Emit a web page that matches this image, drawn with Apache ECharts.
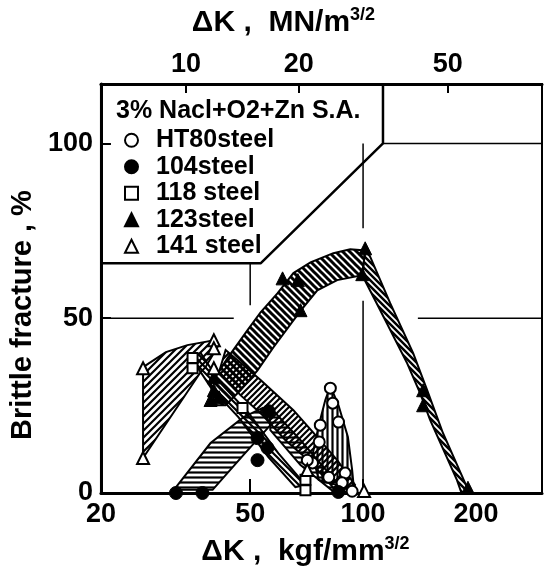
<!DOCTYPE html>
<html>
<head>
<meta charset="utf-8">
<script src="https://cdn.jsdelivr.net/npm/echarts@6/dist/echarts.min.js"></script>
<style>
html, body { margin: 0; background: #fff; }
#chart { width: 549px; height: 574px; }
</style>
</head>
<body>
<div id="chart"></div>
<script>
// tick labels
const xTicksBottom = [20, 50, 100, 200]
const xTicksTop = [10, 20, 50]
const condition = '3% Nacl+O2+Zn S.A.'

// measured points [ΔK kgf/mm^3/2, brittle fracture %]
const ht80 = [[81.8, 30], [83, 25.7], [86, 20.3], [76.9, 19.4], [76.4, 14.6], [73.3, 8.6], [71, 9.4], [81, 4.5], [89.6, 5.7], [87.9, 2.9], [93.5, 0.5]]
const s104 = [[31.7, 0], [37.3, 0], [56, 23.4], [52.3, 15.7], [55.6, 12.9], [52.3, 9.4], [85.9, 0.3]]
const s118 = [[35.1, 38.6], [35.1, 35.7], [47.7, 24.3], [70.2, 3.8], [70.2, 0.8]]
const s123 = [[40, 33.1], [40, 29.4], [39.2, 26.6], [41.3, 27.4], [61, 61.4], [67, 60.9], [68.1, 52.3], [101.3, 70], [99.5, 62.6], [144.6, 29.4], [144.6, 25.1], [190.4, 1.5]]
const s141 = [[25.9, 35.7], [25.9, 10], [40, 43.7], [40, 41.4], [40, 35.7], [71, 6.6], [100.6, 0.6]]

// scatter bands (outline, going round)
const band141 = [[25.9, 36], [29.8, 40.3], [34, 42.3], [40, 43.7], [41, 42], [38, 36], [36.9, 34.6], [25.9, 10]]
const band118 = [[36.9, 40], [41.7, 31.4], [49.5, 22.9], [59.4, 11.4], [70.2, 2.3], [66, 1.7], [55.9, 10.3], [46.5, 21.7], [39.2, 30.3], [34.7, 38.9]]
const bandHT80 = [[43, 40.9], [53.3, 32.3], [65.2, 23.7], [75.5, 16], [85.3, 9.4], [95.2, 2.3], [93.5, 0], [84.3, 0.9], [72.4, 8.9], [62.1, 15.1], [53.9, 22.3], [47.1, 28], [41.3, 34.6]]
const bandHT80Peak = [[81.8, 30.6], [86, 25.1], [91.1, 16], [93.5, 6.6], [94.6, 0.9], [76.2, 3.7], [73.3, 10.9], [76.2, 19.4], [79.3, 26.6]]
const band104Rise = [[31.3, 0.9], [39.2, 14.3], [48, 21.7], [53.9, 24.3], [56.6, 19.4], [48, 10.9], [39.7, 0.9]]
const band104Fall = [[56, 25], [68.1, 15.1], [81.8, 5.1], [87.9, 0.9], [84.3, 0], [68.1, 8], [56.6, 18]]
const band123Rise = [[39.2, 30.9], [43.5, 38.6], [49.2, 46.6], [53.3, 51.7], [59.1, 57.1], [65.2, 62.9], [72.4, 66], [83.3, 68.6], [92.4, 69.7], [101.3, 69.4], [99.5, 62.3], [85.3, 60.9], [75.5, 58], [69.3, 53.1], [65.2, 49.4], [57.7, 41.7], [52.3, 35.1], [47.1, 29.4], [43, 25.1], [40.4, 25.1]]
const band123Fall = [[101.3, 69.4], [103.2, 68.9], [118.1, 54.3], [136, 40], [148.2, 29.4], [163.4, 17.1], [189.2, 1.7], [192.8, 0], [183, 0], [178, 3.7], [150.9, 20.9], [141.9, 28.6], [131.1, 37.1], [111.1, 52.3], [99.5, 62.3]]

// legend box and broken grid lines
const legendFrame = [[20, 65.7], [53.3, 65.7], [113, 100], [113, 117]]
const gridLines = [
    [[113, 100], [300, 100]],
    [[20, 50], [45.2, 50]],
    [[140, 50], [300, 50]],
    [[100, 0], [100, 55]],
    [[100, 75.7], [100, 100]],
    [[50, 53.7], [50, 65.7]]
]

const FONT = 'Liberation Sans'

// hatch pattern tiles
function hatch(kind, s, w) {
    const c = document.createElement('canvas')
    c.width = s
    c.height = s
    const ctx = c.getContext('2d')
    ctx.strokeStyle = '#000'
    ctx.lineWidth = w
    ctx.beginPath()
    if (kind === '/') {
        ctx.moveTo(0, s); ctx.lineTo(s, 0)
        ctx.moveTo(-s / 2, s / 2); ctx.lineTo(s / 2, -s / 2)
        ctx.moveTo(s / 2, s * 1.5); ctx.lineTo(s * 1.5, s / 2)
    } else if (kind === '\\') {
        ctx.moveTo(0, 0); ctx.lineTo(s, s)
        ctx.moveTo(-s / 2, s / 2); ctx.lineTo(s / 2, s * 1.5)
        ctx.moveTo(s / 2, -s / 2); ctx.lineTo(s * 1.5, s / 2)
    } else if (kind === '-') {
        ctx.moveTo(0, s / 2); ctx.lineTo(s, s / 2)
    } else {
        ctx.moveTo(s / 2, 0); ctx.lineTo(s / 2, s)
    }
    ctx.stroke()
    return { image: c, repeat: 'repeat' }
}

function band(pts, fill) {
    return {
        type: 'custom',
        silent: true,
        z: 3,
        data: pts,
        renderItem(params, api) {
            if (params.dataIndex !== 0) return
            return {
                type: 'polygon',
                shape: { points: pts.map(p => api.coord(p)) },
                style: { fill: fill, stroke: '#000', lineWidth: 2 }
            }
        }
    }
}

function frameLine(pts, width) {
    return {
        type: 'line',
        data: pts,
        symbol: 'none',
        silent: true,
        z: 2,
        lineStyle: { color: '#000', width: width }
    }
}

const openItem = { color: '#fff', borderColor: '#000', borderWidth: 2, opacity: 1 }
const fullItem = { color: '#000', borderColor: '#000', borderWidth: 1, opacity: 1 }

const sup = { fontSize: 18, fontWeight: 'bold', fontFamily: FONT, verticalAlign: 'top', lineHeight: 18, color: '#000' }
const big = { fontSize: 30, fontWeight: 'bold', fontFamily: FONT, lineHeight: 34, color: '#000' }

const mychart = echarts.init(document.getElementById('chart'))
mychart.setOption({
    animation: false,
    backgroundColor: '#fff',
    title: {
        text: condition,
        left: 116,
        top: 99,
        padding: 0,
        textStyle: { fontSize: 25, fontWeight: 'bold', fontFamily: FONT, color: '#000' }
    },
    legend: {
        orient: 'vertical',
        left: 124,
        top: 127,
        padding: 0,
        itemGap: 0,
        itemWidth: 13,
        itemHeight: 13,
        data: ['HT80steel', '104steel', '118 steel', '123steel', '141 steel'],
        textStyle: { fontSize: 25, fontWeight: 'bold', fontFamily: FONT, color: '#000', lineHeight: 26.5, padding: [0, 0, 0, 13] }
    },
    grid: {
        left: 100,
        right: 7,
        top: 84,
        bottom: 81,
        show: true,
        borderColor: '#000',
        borderWidth: 2
    },
    xAxis: [
        {
            type: 'log',
            min: 20,
            max: 300,
            position: 'bottom',
            name: '{n|ΔK ,  kgf/mm}{s|3/2}',
            nameLocation: 'middle',
            nameGap: 42,
            nameTextStyle: { rich: { n: big, s: sup }, padding: [0, 32, 0, 0] },
            axisLine: { lineStyle: { color: '#000', width: 3 } },
            axisTick: { inside: true, length: 14, customValues: [50, 100], lineStyle: { color: '#000', width: 2 } },
            axisLabel: { customValues: xTicksBottom, margin: 8, fontSize: 27, fontWeight: 'bold', fontFamily: FONT, color: '#000' },
            splitLine: { show: false },
            minorTick: { show: false }
        },
        {
            type: 'log',
            min: 5.93,
            max: 89.3,
            position: 'top',
            name: '{n|ΔK ,  MN/m}{s|3/2}',
            nameLocation: 'middle',
            nameGap: 44,
            nameTextStyle: { rich: { n: big, s: sup }, padding: [0, 76, 0, 0] },
            axisLine: { lineStyle: { color: '#000', width: 3 } },
            axisTick: { inside: true, length: 9, customValues: xTicksTop, lineStyle: { color: '#000', width: 2 } },
            axisLabel: { customValues: xTicksTop, margin: 6, fontSize: 27, fontWeight: 'bold', fontFamily: FONT, color: '#000' },
            splitLine: { show: false }
        }
    ],
    yAxis: {
        type: 'value',
        min: 0,
        max: 117,
        interval: 50,
        name: 'Brittle fracture , %',
        nameLocation: 'middle',
        nameRotate: 90,
        nameGap: 62,
        nameTextStyle: { fontSize: 29, fontWeight: 'bold', fontFamily: FONT, color: '#000', padding: [0, 53, 0, 0] },
        axisLine: { show: true, lineStyle: { color: '#000', width: 3 } },
        axisTick: { show: true, inside: true, length: 10, lineStyle: { color: '#000', width: 2 } },
        axisLabel: { margin: 8, fontSize: 27, fontWeight: 'bold', fontFamily: FONT, color: '#000', showMaxLabel: false },
        splitLine: { show: false }
    },
    series: [
        ...gridLines.map(g => frameLine(g, 1.5)),
        frameLine(legendFrame, 2.5),
        band(band141, hatch('/', 7, 2.2)),
        band(band104Rise, hatch('-', 5, 2.2)),
        band(band104Fall, hatch('-', 5, 2.2)),
        band(bandHT80, hatch('/', 6, 2.2)),
        band(band118, hatch('\\', 6, 2.2)),
        band(bandHT80Peak, hatch('|', 5, 2.2)),
        band(band123Rise, hatch('\\', 7, 3)),
        band(band123Fall, hatch('\\', 6, 2.5)),
        { name: 'HT80steel', type: 'scatter', data: ht80, symbol: 'circle', symbolSize: 11, itemStyle: openItem, z: 5 },
        { name: '104steel', type: 'scatter', data: s104, symbol: 'circle', symbolSize: 13, itemStyle: fullItem, z: 5 },
        { name: '118 steel', type: 'scatter', data: s118, symbol: 'rect', symbolSize: 10, itemStyle: openItem, z: 5 },
        { name: '123steel', type: 'scatter', data: s123, symbol: 'triangle', symbolSize: 13, itemStyle: fullItem, z: 5 },
        { name: '141 steel', type: 'scatter', data: s141, symbol: 'triangle', symbolSize: 12, itemStyle: openItem, z: 5 }
    ]
})
</script>
</body>
</html>
